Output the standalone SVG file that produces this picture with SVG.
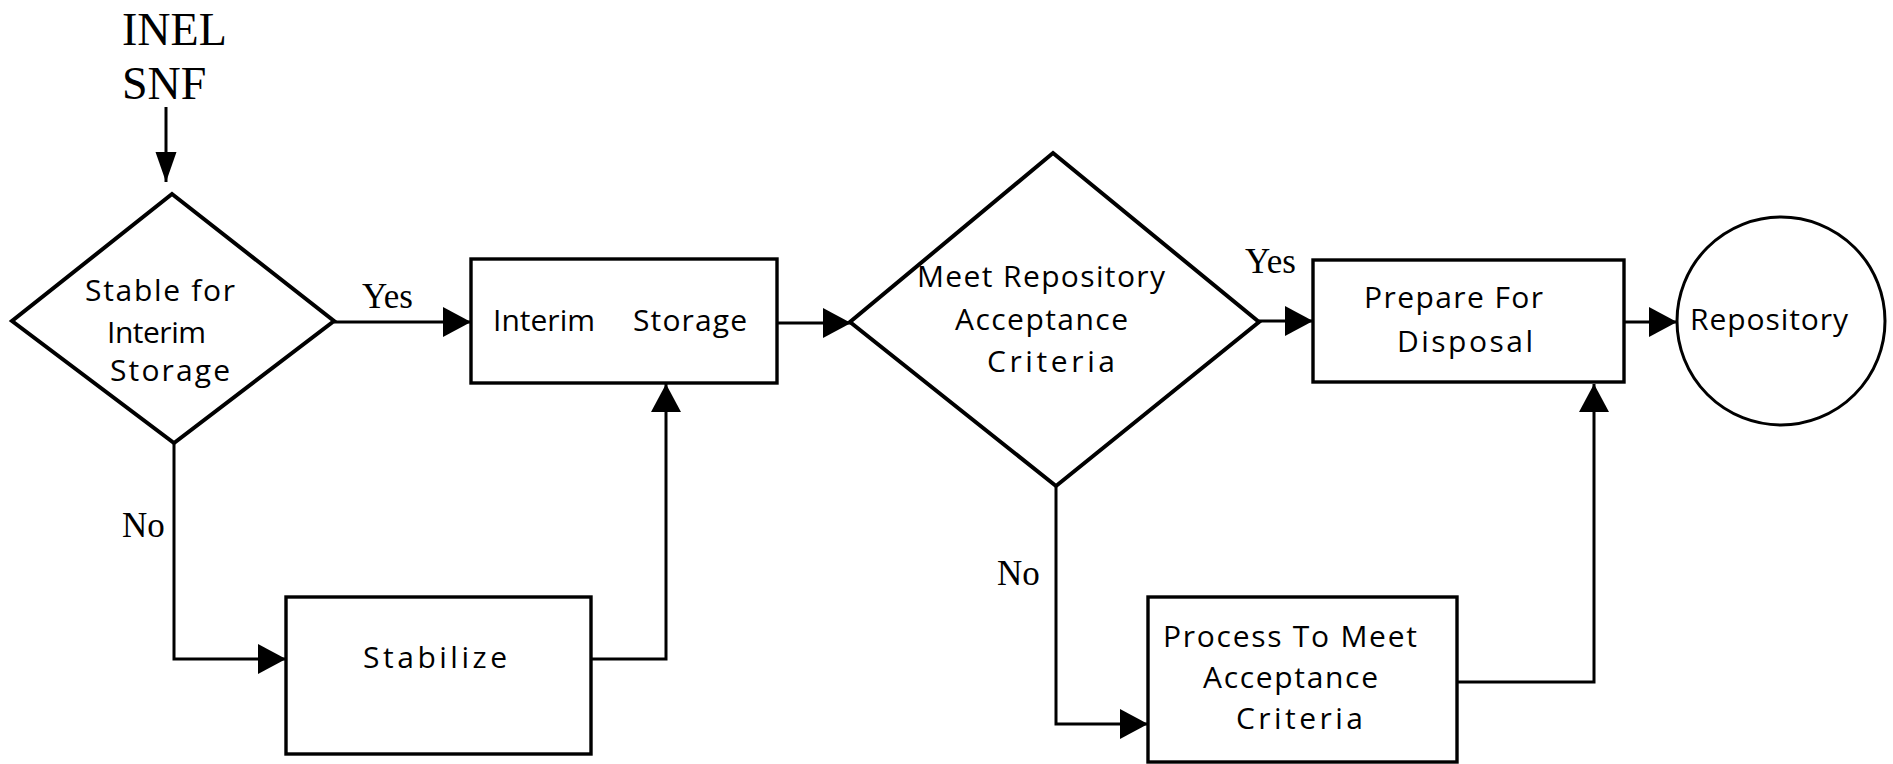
<svg xmlns="http://www.w3.org/2000/svg" width="1893" height="764" viewBox="0 0 1893 764">
  <style>
    .shape { fill: #ffffff; stroke: #000000; stroke-width: 3.4; }
    .diamond { fill: #ffffff; stroke: #000000; stroke-width: 4; stroke-linejoin: miter; }
    .circle { fill: #ffffff; stroke: #000000; stroke-width: 3; }
    .wire { fill: none; stroke: #000000; stroke-width: 3; }
    .label { font-family: "Open Sans", "Noto Sans", "DejaVu Sans", sans-serif; font-size: 30px; fill: #000000; }
    .serif { font-family: "Liberation Serif", "Times New Roman", serif; fill: #000000; }
  </style>
  <defs>
    <marker id="arrow" markerUnits="userSpaceOnUse" markerWidth="30" markerHeight="30" refX="28" refY="15" orient="auto">
      <path d="M0,0 L28,15 L0,30 Z" fill="#000000"/>
    </marker>
    <marker id="arrow-narrow" markerUnits="userSpaceOnUse" markerWidth="31" markerHeight="22" refX="30" refY="11" orient="auto">
      <path d="M0,0.5 L30,11 L0,21.5 Z" fill="#000000"/>
    </marker>
  </defs>

  <rect width="1893" height="764" fill="#ffffff"/>

  <!-- connectors -->
  <g id="connectors">
    <line class="wire" x1="166" y1="107" x2="166" y2="182" marker-end="url(#arrow-narrow)"/>
    <line class="wire" x1="334" y1="322" x2="471" y2="322" marker-end="url(#arrow)"/>
    <line class="wire" x1="777" y1="323" x2="851" y2="323" marker-end="url(#arrow)"/>
    <line class="wire" x1="1259" y1="321" x2="1313" y2="321" marker-end="url(#arrow)"/>
    <line class="wire" x1="1624" y1="322" x2="1677" y2="322" marker-end="url(#arrow)"/>
    <polyline class="wire" points="174,443 174,659 286,659" marker-end="url(#arrow)"/>
    <polyline class="wire" points="591,659 666,659 666,384" marker-end="url(#arrow)"/>
    <polyline class="wire" points="1056,486 1056,724 1148,724" marker-end="url(#arrow)"/>
    <polyline class="wire" points="1457,682 1594,682 1594,384" marker-end="url(#arrow)"/>

    <text class="serif" x="362" y="308" font-size="35">Yes</text>
    <text class="serif" x="1245" y="273" font-size="35">Yes</text>
    <text class="serif" x="122" y="537" font-size="35">No</text>
    <text class="serif" x="997" y="585" font-size="35">No</text>
  </g>

  <!-- source label -->
  <g id="source">
    <text class="serif" x="122" y="45" font-size="46">INEL</text>
    <text class="serif" x="122" y="99" font-size="46">SNF</text>
  </g>

  <g id="stable-check">
    <polygon class="diamond" points="172,194 334,321 174,443 12,321"/>
    <text class="label" x="85" y="301" textLength="150" lengthAdjust="spacing">Stable for</text>
    <text class="label" x="107" y="343" textLength="99" lengthAdjust="spacing">Interim</text>
    <text class="label" x="110" y="381" textLength="120" lengthAdjust="spacing">Storage</text>
  </g>

  <g id="interim-storage">
    <rect class="shape" x="471" y="259" width="306" height="124"/>
    <text class="label" y="331"><tspan x="493" textLength="102" lengthAdjust="spacing">Interim</tspan><tspan x="633" textLength="114" lengthAdjust="spacing">Storage</tspan></text>
  </g>

  <g id="stabilize">
    <rect class="shape" x="286" y="597" width="305" height="157"/>
    <text class="label" x="363" y="668" textLength="144" lengthAdjust="spacing">Stabilize</text>
  </g>

  <g id="acceptance-check">
    <polygon class="diamond" points="1053,153 1259,322 1056,486 850,322"/>
    <text class="label" x="917" y="287" textLength="248" lengthAdjust="spacing">Meet Repository</text>
    <text class="label" x="955" y="330" textLength="173" lengthAdjust="spacing">Acceptance</text>
    <text class="label" x="987" y="372" textLength="128" lengthAdjust="spacing">Criteria</text>
  </g>

  <g id="prepare-disposal">
    <rect class="shape" x="1313" y="260" width="311" height="122"/>
    <text class="label" x="1364" y="308" textLength="179" lengthAdjust="spacing">Prepare For</text>
    <text class="label" x="1397" y="352" textLength="136" lengthAdjust="spacing">Disposal</text>
  </g>

  <g id="process-criteria">
    <rect class="shape" x="1148" y="597" width="309" height="165"/>
    <text class="label" x="1163" y="647" textLength="254" lengthAdjust="spacing">Process To Meet</text>
    <text class="label" x="1203" y="688" textLength="175" lengthAdjust="spacing">Acceptance</text>
    <text class="label" x="1236" y="729" textLength="127" lengthAdjust="spacing">Criteria</text>
  </g>

  <g id="repository">
    <circle class="circle" cx="1781" cy="321" r="104"/>
    <text class="label" x="1690" y="330" textLength="158" lengthAdjust="spacing">Repository</text>
  </g>
</svg>
